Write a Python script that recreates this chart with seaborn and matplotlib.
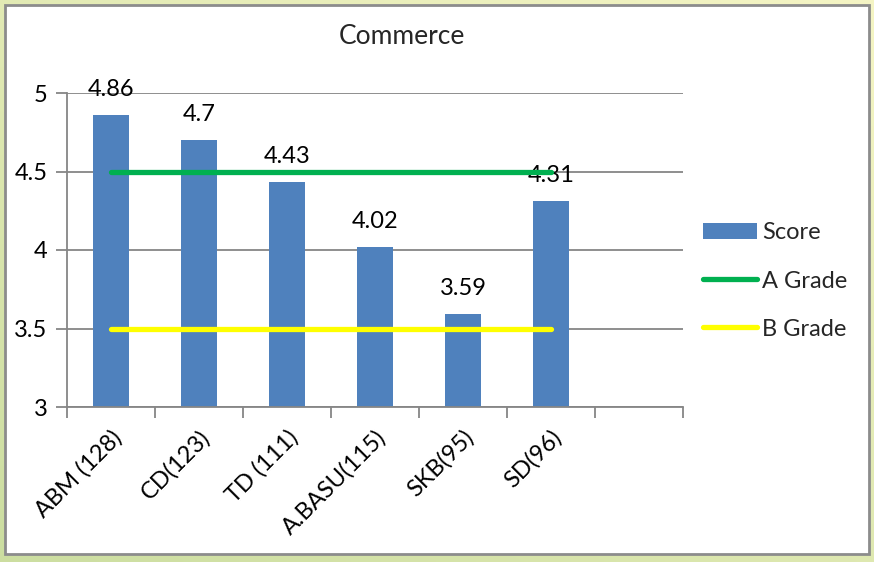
import numpy as np
import pandas as pd
import seaborn as sns
import matplotlib.pyplot as plt
from matplotlib.patches import Rectangle, Patch
from matplotlib.lines import Line2D

# chart data
names = ["ABM (128)", "CD(123)", "TD (111)", "A.BASU(115)", "SKB(95)", "SD(96)"]
scores = [4.86, 4.7, 4.43, 4.02, 3.59, 4.31]
a_grade = [4.5, 4.5, 4.5, 4.5, 4.5, 4.5]
b_grade = [3.5, 3.5, 3.5, 3.5, 3.5, 3.5]
slots = names + [" "]  # excel leaves one empty category at the end

df = pd.DataFrame({"name": names, "score": scores})

sns.set_theme(style="white")
plt.rcParams["font.family"] = ["Lato", "DejaVu Sans"]

FS = 17
W, H = 874, 562
fig = plt.figure(figsize=(W / 100, H / 100), dpi=100)

# greenish outer background + white panel
bg = fig.add_axes([0, 0, 1, 1], zorder=-10)
yy, xx = np.mgrid[0:1:200j, 0:1:200j]
grad = np.clip(0.55 * yy + 0.45 * (1 - xx), 0, 1)
c1 = np.array([0.96, 0.96, 0.77])
c2 = np.array([0.80, 0.87, 0.63])
img = c1 * (1 - grad[..., None]) + c2 * grad[..., None]
bg.imshow(img, aspect="auto", extent=[0, 1, 0, 1], origin="upper")
bg.add_patch(Rectangle((5 / W, 1 - 554 / H), 864 / W, 549 / H, facecolor="white",
                       edgecolor="#8c8c8c", linewidth=2, transform=bg.transAxes))
bg.set_axis_off()

ax = fig.add_axes([67 / W, 1 - 407 / H, 616 / W, 314 / H])
ax.set_facecolor("none")

sns.barplot(data=df, x="name", y="score", order=slots, color="#4f81bd",
            width=0.4, saturation=1, ax=ax, zorder=2)
for p in ax.patches:
    p.set_edgecolor("none")

pos = np.arange(len(names))
ax.plot(pos, a_grade, color="#00b050", lw=3.8, solid_capstyle="round", zorder=4)
ax.plot(pos, b_grade, color="#ffff00", lw=3.8, solid_capstyle="round", zorder=4)

ax.bar_label(ax.containers[0], labels=[f"{v:g}" for v in scores], padding=11,
             fontsize=FS, color="black")

ax.set_ylim(3, 5)
ax.set_xlim(-0.5, len(slots) - 0.5)
ax.set_yticks([3, 3.5, 4, 4.5, 5])
ax.set_yticklabels(["3", "3.5", "4", "4.5", "5"], fontsize=FS, color="black")
ax.yaxis.grid(True, color="#868686", lw=1.3, zorder=0)
ax.set_axisbelow(True)

# ticks between categories, labels at centres
ax.set_xticks(np.arange(len(slots) + 1) - 0.5)
ax.set_xticklabels([])
ax.set_xticks(pos, names, minor=True)
ax.tick_params(axis="x", which="major", bottom=True, length=8, width=1.3,
               color="#868686", direction="out")
ax.tick_params(axis="x", which="minor", bottom=True, length=0, pad=14)
ax.tick_params(axis="y", left=True, length=8, width=1.3, color="#868686",
               direction="out", pad=6)
for lbl in ax.get_xticklabels(minor=True):
    lbl.set_rotation(45)
    lbl.set_ha("right")
    lbl.set_rotation_mode("anchor")
    lbl.set_fontsize(FS)
    lbl.set_color("black")

ax.set_xlabel("")
ax.set_ylabel("")
for s in ["top", "right"]:
    ax.spines[s].set_visible(False)
for s in ["left", "bottom"]:
    ax.spines[s].set_color("#868686")
    ax.spines[s].set_linewidth(1.3)

fig.text(402 / W, 1 - 36 / H, "Commerce", ha="center", va="center", fontsize=19)

handles = [Patch(facecolor="#4f81bd", edgecolor="none"),
           Line2D([], [], color="#00b050", lw=3.8, solid_capstyle="round"),
           Line2D([], [], color="#ffff00", lw=3.8, solid_capstyle="round")]
fig.legend(handles, ["Score", "A Grade", "B Grade"], loc="center left",
           bbox_to_anchor=(691 / W, 1 - 281 / H), frameon=False, fontsize=FS,
           handlelength=2.3, handletextpad=0.2, labelspacing=1.15, borderpad=0)

fig.savefig("out.png", dpi=100)
